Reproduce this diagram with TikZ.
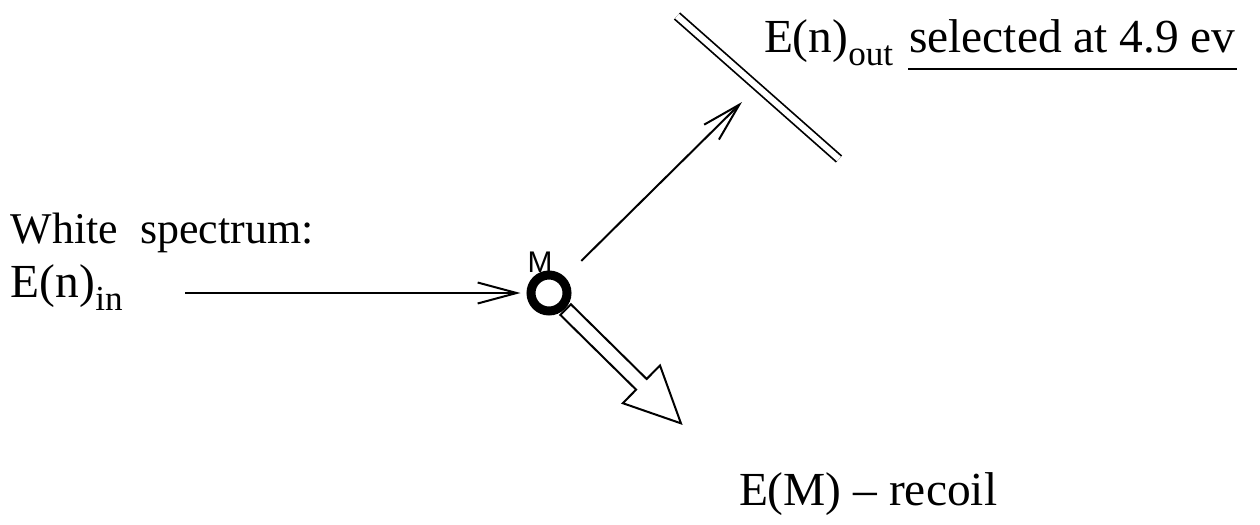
\documentclass[tikz,border=0pt]{standalone}
\usepackage{fontspec}
\setmainfont{Liberation Serif}
\setsansfont{Liberation Sans}
\usetikzlibrary{arrows.meta,shapes.arrows}

\newcommand{\lowsub}[1]{\raisebox{-0.28em}{\fontsize{20}{20}\selectfont #1}}

\begin{document}
\begin{tikzpicture}[x=0.02cm, y=-0.02cm,
    line width=0.04cm,
    txt/.style={anchor=base west, inner sep=0pt, font=\fontsize{27}{31}\selectfont},
    beam/.style={-{Straight Barb[length=0.78cm, width=0.42cm, line width=0.04cm]}},
]
\useasboundingbox (0,0) rectangle (1260,524);

% Labels
\node[txt, font=\fontsize{25}{29}\selectfont] (white) at (10,243) {White\ \ spectrum:};
\node[txt] (ein) at (10,297) {E(n)\lowsub{in}};
\node[txt] (eout) at (763,52) {E(n)\lowsub{out}};
\node[txt] (sel) at (908,52) {selected at 4.9 ev};
\node[txt] (recoil) at (738,505) {E(M) -- recoil};
\draw ([yshift=-0.34cm]sel.base west) -- ([yshift=-0.34cm]sel.base east);

% Target atom
\node[
    circle,
    draw,
    line width=0.18cm,
    minimum size=0.72cm,
    inner sep=0pt
] (atom) at (549,293) {};
\node[font=\sffamily\fontsize{17}{17}\selectfont, inner sep=0pt] (mlab) at (540,262) {M};

% Detector
\coordinate (detA) at (677,16);
\coordinate (detB) at (839,159);
\draw[double, double distance=0.12cm, line width=0.035cm] (detA) -- (detB);

% Beams
\coordinate (start) at (185,293);
\coordinate (hit) at (742,102);
\draw[beam, shorten >=0.12cm] (start) -- (atom.west);
\draw[beam, shorten <=0.46cm] (atom.45) -- (hit);

% Recoil
\node[
    single arrow,
    draw,
    rotate=-44.6,
    anchor=tail,
    minimum height=3.24cm,
    minimum width=1.02cm,
    inner xsep=0pt,
    inner ysep=0.13cm,
    single arrow head extend=0.38cm,
    single arrow tip angle=51
] (kick) at (atom.-45) {};

\end{tikzpicture}
\end{document}
